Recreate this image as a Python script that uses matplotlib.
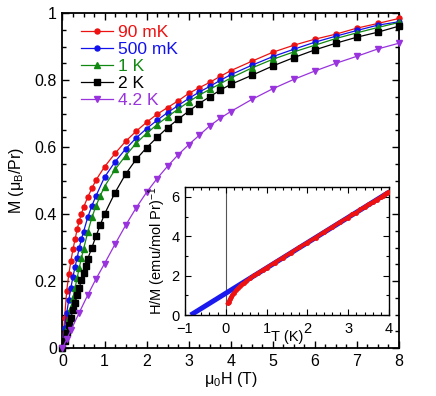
import numpy as np
import matplotlib
matplotlib.use("Agg")
import matplotlib.pyplot as plt
from matplotlib.ticker import MultipleLocator, FuncFormatter

plt.rcParams['font.family'] = ['Liberation Sans', 'DejaVu Sans']
plt.rcParams['mathtext.fontset'] = 'custom'
plt.rcParams['mathtext.rm'] = 'Liberation Sans'
plt.rcParams['mathtext.it'] = 'Liberation Sans:italic'

# ---------------- main data ----------------
H_dense = [0, 0.05, 0.1, 0.15, 0.2, 0.25, 0.3, 0.35, 0.4, 0.45, 0.5, 0.6, 0.7, 0.8,
           1.0, 1.25, 1.5, 1.75, 2.0, 2.25, 2.5, 2.75, 3.0, 3.25, 3.5, 3.75, 4.0,
           4.5, 5.0, 5.5, 6.0, 6.5, 7.0, 7.5, 8.0]

M_90mK = [0, 0.09, 0.17, 0.22, 0.26, 0.295, 0.325, 0.355, 0.38, 0.40, 0.42, 0.45, 0.477, 0.502,
          0.541, 0.581, 0.617, 0.647, 0.674, 0.698, 0.718, 0.738, 0.760, 0.777, 0.793, 0.811, 0.828,
          0.856, 0.883, 0.904, 0.922, 0.937, 0.955, 0.969, 0.984]

M_500mK = [0, 0.06, 0.105, 0.143, 0.18, 0.213, 0.243, 0.27, 0.30, 0.325, 0.347, 0.39, 0.425, 0.455,
           0.51, 0.556, 0.594, 0.627, 0.655, 0.680, 0.703, 0.724, 0.745, 0.764, 0.781, 0.799, 0.816,
           0.844, 0.870, 0.892, 0.913, 0.931, 0.948, 0.964, 0.974]

H_1K = [0, 0.05, 0.1, 0.15, 0.2, 0.25, 0.3, 0.35, 0.4, 0.45, 0.5, 0.6, 0.7, 0.8, 0.9,
        1.0, 1.25, 1.5, 1.75, 2.0, 2.25, 2.5, 2.75, 3.0, 3.25, 3.5, 3.75, 4.0,
        4.5, 5.0, 5.5, 6.0, 6.5, 7.0, 7.5, 8.0]
M_1K = [0, 0.03, 0.06, 0.09, 0.12, 0.15, 0.18, 0.21, 0.24, 0.268, 0.295, 0.345, 0.39, 0.425, 0.455,
        0.482, 0.533, 0.574, 0.611, 0.641, 0.667, 0.691, 0.713, 0.735, 0.755, 0.772, 0.789, 0.806,
        0.836, 0.862, 0.884, 0.904, 0.924, 0.941, 0.957, 0.972]

H_2K = [0, 0.05, 0.1, 0.15, 0.2, 0.25, 0.3, 0.35, 0.4, 0.45, 0.5, 0.55, 0.6, 0.7, 0.8, 0.9,
        1.0, 1.25, 1.5, 1.75, 2.0, 2.25, 2.5, 2.75, 3.0, 3.25, 3.5, 3.75, 4.0,
        4.5, 5.0, 5.5, 6.0, 6.5, 7.0, 7.5, 8.0]
M_2K = [0, 0.022, 0.045, 0.068, 0.09, 0.113, 0.135, 0.158, 0.18, 0.203, 0.225, 0.246, 0.266, 0.30, 0.335, 0.368,
        0.40, 0.464, 0.519, 0.563, 0.598, 0.629, 0.658, 0.683, 0.707, 0.730, 0.750, 0.770, 0.787,
        0.814, 0.842, 0.867, 0.890, 0.910, 0.928, 0.943, 0.961]

H_4K = [0, 0.1, 0.2, 0.4, 0.6, 0.8, 1.0, 1.25, 1.5, 1.75, 2.0, 2.25, 2.5, 2.75, 3.0, 3.25, 3.5, 3.75, 4.0,
        4.5, 5.0, 5.5, 6.0, 6.5, 7.0, 7.5, 8.0]
M_4K = [0, 0.026, 0.053, 0.106, 0.158, 0.207, 0.252, 0.31, 0.366, 0.418, 0.465, 0.506, 0.543, 0.577, 0.607,
        0.635, 0.663, 0.686, 0.706, 0.742, 0.774, 0.802, 0.827, 0.850, 0.871, 0.893, 0.910]

labels = ['90 mK', '500 mK', '1 K', '2 K', '4.2 K']
colors = ['#ee1111', '#1111ee', '#118811', '#000000', '#9933dd']
markers = ['o', 'o', '^', 's', 'v']
msizes = [3.6, 3.6, 4.2, 4.4, 4.4]

# ---------------- inset data ----------------
T_fit = [-0.86, 4.0]
HM_fit = [0.0, 6.24]

T_data = [0.05, 0.07, 0.1, 0.13, 0.16, 0.2, 0.25, 0.3, 0.35, 0.4, 0.45, 0.5, 0.6, 0.7, 0.8, 0.9,
          1.0, 1.2, 1.4, 1.6, 1.8, 2.0, 2.2, 2.4, 2.6, 2.8, 3.0, 3.1, 3.2, 3.3, 3.4, 3.5, 3.6,
          3.7, 3.8, 3.85, 3.9, 3.95, 4.0]
HM_data = [0.6, 0.68, 0.8, 0.92, 1.02, 1.12, 1.25, 1.36, 1.46, 1.55, 1.63, 1.71, 1.87, 2.01, 2.14, 2.27,
           2.40, 2.66, 2.91, 3.17, 3.43, 3.68, 3.93, 4.20, 4.45, 4.72, 4.95, 5.12, 5.20, 5.36, 5.48, 5.62, 5.72,
           5.86, 5.97, 6.05, 6.12, 6.20, 6.26]

# ---------------- figure ----------------
fig = plt.figure(figsize=(4.36, 3.96), dpi=100)
ax = fig.add_axes([0.1433, 0.1212, 0.7717, 0.8458])

Hs = [H_dense, H_dense, H_1K, H_2K, H_4K]
Ms = [M_90mK, M_500mK, M_1K, M_2K, M_4K]
for H, M, lab, c, mk, ms in zip(Hs, Ms, labels, colors, markers, msizes):
    ax.plot(H, M, color=c, lw=0.9, marker=mk, ms=ms, mec=c, mfc=c, label=lab, clip_on=False, zorder=3)

ax.set_xlim(0, 8)
ax.set_ylim(0, 1)
ax.xaxis.set_major_locator(MultipleLocator(1))
ax.xaxis.set_minor_locator(MultipleLocator(0.25))
ax.yaxis.set_major_locator(MultipleLocator(0.2))
ax.yaxis.set_minor_locator(MultipleLocator(0.05))
ax.yaxis.set_major_formatter(FuncFormatter(lambda v, p: '%g' % round(v, 2)))
ax.tick_params(which='both', direction='in', top=True, right=True, width=1.0)
ax.tick_params(which='major', length=5, labelsize=11.5, pad=4)
ax.tick_params(which='minor', length=3)
for s in ax.spines.values():
    s.set_linewidth(1.3)
ax.set_xlabel(r'μ$_{\mathrm{0}}$H (T)', fontsize=11.5, labelpad=1)
ax.set_ylabel(r'M (μ$_{\mathrm{B}}$/Pr)', fontsize=11.5, labelpad=6)

leg = ax.legend(loc='upper left', bbox_to_anchor=(0.02, 1.0), frameon=False, fontsize=12.5,
                handlelength=1.8, handletextpad=0.3, labelspacing=0.1, borderaxespad=0.3)
for t, c in zip(leg.get_texts(), colors):
    t.set_color(c)

# ---------------- inset ----------------
ia = fig.add_axes([0.4243, 0.2045, 0.4679, 0.3233])
ia.set_facecolor('white')
ia.axvline(0, color='#555555', lw=0.8, zorder=1)
ia.plot(T_fit, HM_fit, color='#1a1aee', lw=3.6, solid_capstyle='butt', zorder=2)
ia.plot(T_data, HM_data, color='#ee1111', lw=2.8, marker='o', ms=2.5, zorder=3)
ia.set_xlim(-1, 4)
ia.set_ylim(0, 6.5)
ia.xaxis.set_major_locator(MultipleLocator(1))
ia.xaxis.set_minor_locator(MultipleLocator(0.2))
ia.yaxis.set_major_locator(MultipleLocator(2))
ia.yaxis.set_minor_locator(MultipleLocator(1))
ia.tick_params(which='both', direction='in', top=True, right=True, width=0.8)
ia.tick_params(which='major', length=4, labelsize=10.5)
ia.tick_params(axis='x', which='major', pad=5)
ia.tick_params(axis='y', which='major', pad=4)
ia.tick_params(which='minor', length=2.5)
for s in ia.spines.values():
    s.set_linewidth(1.0)
ia.set_xlabel('T (K)', fontsize=10.5, labelpad=-4)
ia.set_ylabel(r'H/M (emu/mol Pr)$^{\mathrm{-1}}$', fontsize=10.5, labelpad=2)

fig.savefig('out.png', dpi=100)
